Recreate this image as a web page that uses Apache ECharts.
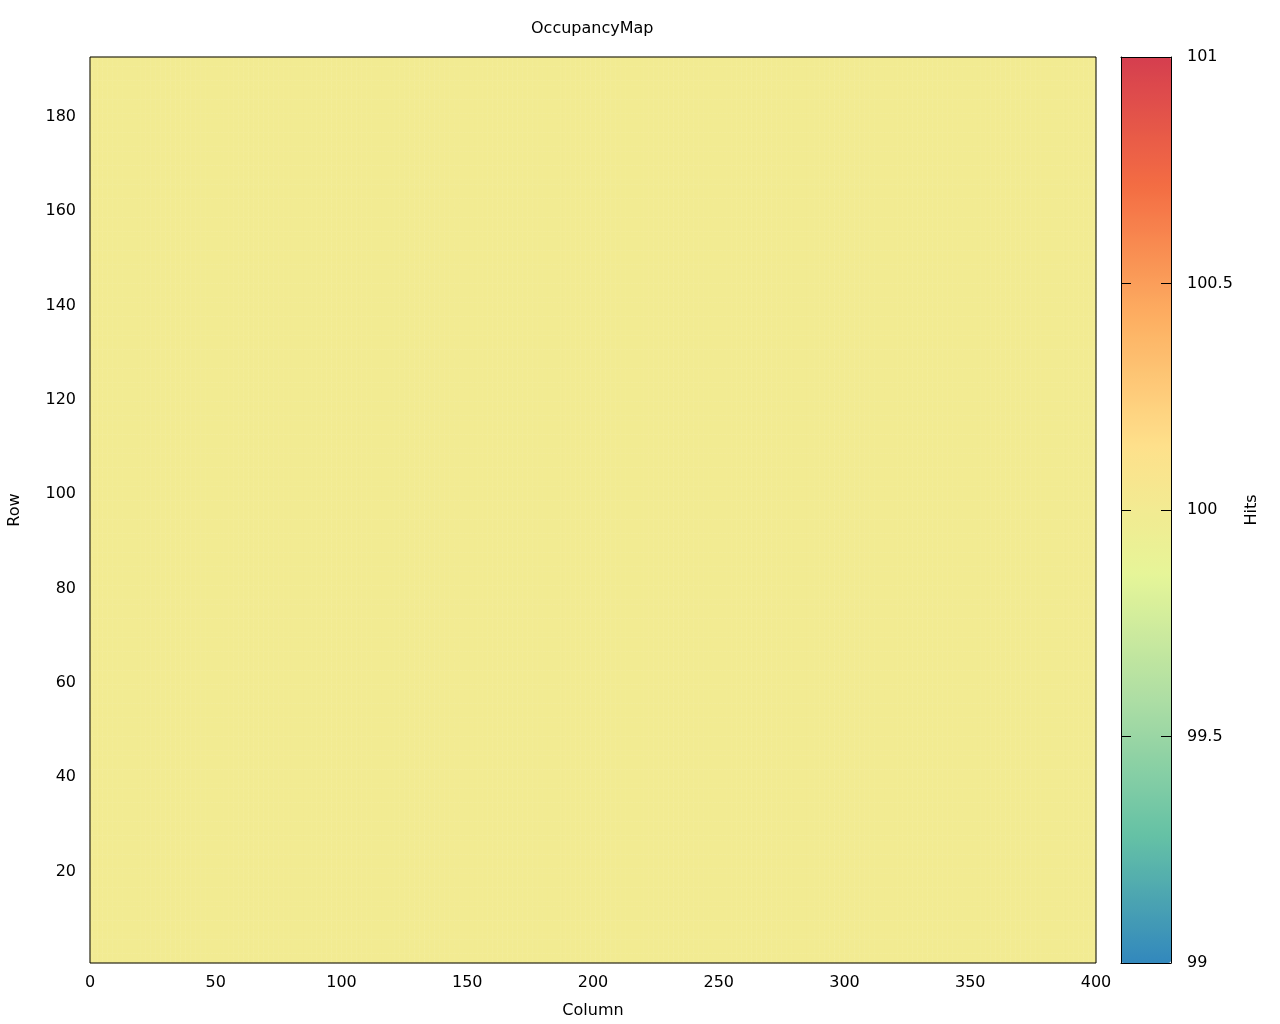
<!DOCTYPE html>
<html>
<head>
<meta charset="utf-8">
<script src="https://cdn.jsdelivr.net/npm/echarts@6/dist/echarts.min.js"></script>
<style>html,body{margin:0;padding:0;background:#fff;}#c{width:1280px;height:1024px;}</style>
</head>
<body>
<div id="c"></div>
<script>
// ---- data ----
const chartTitle = 'OccupancyMap';
const nColumns = 400;            // columns 0..399
const nRows = 192;               // rows 0..191
const hitsValue = 100;           // every pixel shows 100 hits
const xTickLabels = [0, 50, 100, 150, 200, 250, 300, 350, 400];
const yTickLabels = [20, 40, 60, 80, 100, 120, 140, 160, 180];
const cbTickLabels = [99, 99.5, 100, 100.5, 101];
const paletteColors = ['#3288BD', '#66C2A5', '#ABDDA4', '#E6F598', '#FEE08B', '#FDAE61', '#F46D43', '#D53E4F'];

// ---- build ----
const colCats = [];
for (let c = 0; c < nColumns; c++) colCats.push(String(c));
const rowCats = [];
for (let r = 0; r < nRows; r++) rowCats.push(String(r));
const cells = [];
for (let c = 0; c < nColumns; c++) {
  for (let r = 0; r < nRows; r++) cells.push([c, r, hitsValue]);
}

const FONT = 'DejaVu Sans';
const txt = { color: '#000', fontFamily: FONT, fontSize: 16 };

const chart = echarts.init(document.getElementById('c'), null, { renderer: 'canvas' });
chart.setOption({
  animation: false,
  backgroundColor: '#fff',
  textStyle: { fontFamily: FONT },
  title: {
    text: chartTitle, left: 531, top: 21, padding: 0,
    textStyle: { color: '#000', fontFamily: FONT, fontSize: 16, fontWeight: 'normal' }
  },
  grid: [
    { left: 90, top: 57, width: 1006, height: 906, show: true, borderColor: '#000', borderWidth: 1, z: 10,
      backgroundColor: 'rgba(0,0,0,0)', containLabel: false, outerBoundsMode: 'none' },
    { left: 1121, top: 57, width: 50, height: 906, show: false, containLabel: false, outerBoundsMode: 'none' }
  ],
  xAxis: [
    { type: 'category', gridIndex: 0, data: colCats, show: false },
    {
      type: 'value', gridIndex: 0, min: 0, max: 400, interval: 50, position: 'bottom',
      axisLine: { show: false, onZero: false }, axisTick: { show: false }, splitLine: { show: false },
      axisLabel: Object.assign({
        margin: 12,
        formatter: function (v) { return xTickLabels.indexOf(v) >= 0 ? String(v) : ''; }
      }, txt),
      name: 'Column', nameLocation: 'middle', nameGap: 40, nameTextStyle: txt
    },
    { type: 'value', gridIndex: 1, min: 0, max: 1, position: 'bottom', z: 10,
      axisLine: { show: true, onZero: false, lineStyle: { color: '#000', width: 1 } }, axisTick: { show: false }, axisLabel: { show: false }, splitLine: { show: false } },
    { type: 'value', gridIndex: 1, min: 0, max: 1, position: 'top', z: 10,
      axisLine: { show: true, onZero: false, lineStyle: { color: '#000', width: 1 } }, axisTick: { show: false }, axisLabel: { show: false }, splitLine: { show: false } }
  ],
  yAxis: [
    { type: 'category', gridIndex: 0, data: rowCats, show: false },
    {
      type: 'value', gridIndex: 0, min: 0, max: 192, interval: 20, position: 'left',
      axisLine: { show: false, onZero: false }, axisTick: { show: false }, splitLine: { show: false },
      axisLabel: Object.assign({
        margin: 14, verticalAlign: 'top', lineHeight: 6,
        formatter: function (v) { return yTickLabels.indexOf(v) >= 0 ? String(v) : ''; }
      }, txt),
      name: 'Row', nameLocation: 'middle', nameGap: 67, nameRotate: 90, nameTextStyle: txt
    },
    {
      type: 'value', gridIndex: 1, min: 99, max: 101, interval: 0.5, position: 'right', z: 10,
      axisLine: { show: true, onZero: false, lineStyle: { color: '#000', width: 1 } },
      axisTick: { show: true, inside: true, length: 10, lineStyle: { color: '#000' } },
      splitLine: { show: false },
      axisLabel: Object.assign({
        margin: 16,
        formatter: function (v) { return cbTickLabels.indexOf(v) >= 0 ? String(v) : ''; }
      }, txt),
      name: 'Hits', nameLocation: 'middle', nameGap: 73, nameRotate: 90, nameTextStyle: txt
    },
    {
      type: 'value', gridIndex: 1, min: 99, max: 101, interval: 0.5, position: 'left', z: 10,
      axisLine: { show: true, onZero: false, lineStyle: { color: '#000', width: 1 } },
      axisTick: { show: true, inside: true, length: 10, lineStyle: { color: '#000' } },
      axisLabel: { show: false }, splitLine: { show: false }
    }
  ],
  visualMap: {
    type: 'continuous', seriesIndex: 0, min: 99, max: 101, z: 1,
    calculable: false, orient: 'vertical', left: 1121, top: 57, padding: 0,
    itemWidth: 50, itemHeight: 906, text: null, showLabel: false,
    inRange: { color: paletteColors }
  },
  series: [{
    type: 'heatmap', xAxisIndex: 0, yAxisIndex: 0,
    data: cells, progressive: 0, emphasis: { disabled: true }, silent: true
  }]
});
</script>
</body>
</html>
